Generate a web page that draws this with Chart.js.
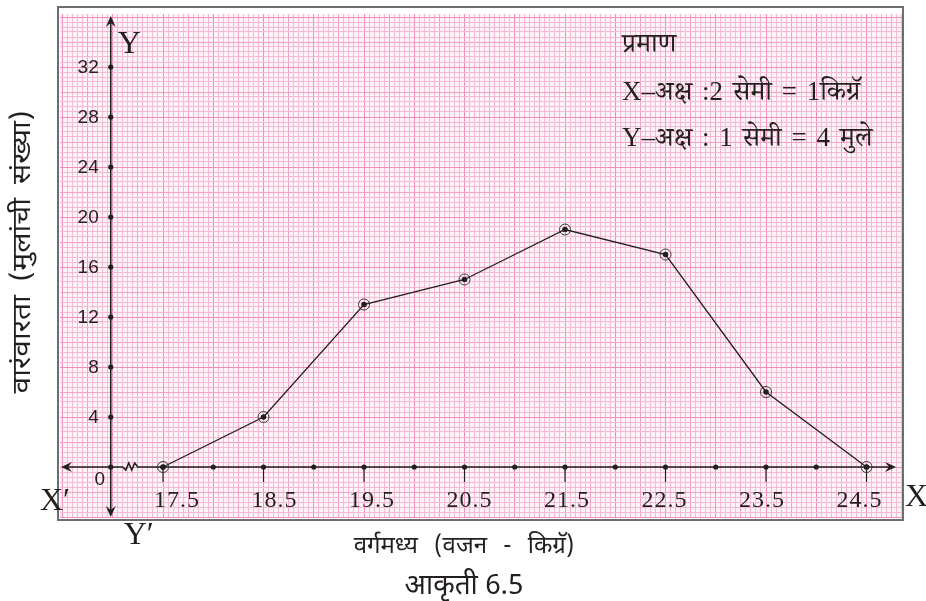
<!DOCTYPE html>
<html><head><meta charset="utf-8">
<script src="https://cdn.jsdelivr.net/npm/chart.js@4.4.1/dist/chart.umd.min.js"></script>
<style>html,body{margin:0;padding:0;background:#fff;}#wrap{width:926px;height:601px;position:relative;}</style>
</head><body><div id="wrap"><canvas id="c" width="926" height="601"></canvas></div>
<script>
// ---- data ----
const classMarks = [17.5, 18.5, 19.5, 20.5, 21.5, 22.5, 23.5, 24.5];
const frequencies = [0, 4, 13, 15, 19, 17, 6, 0];
const xTickLabels = ['17.5', '18.5', '19.5', '20.5', '21.5', '22.5', '23.5', '24.5'];
const yTickValues = [4, 8, 12, 16, 20, 24, 28, 32];
const yTickLabels = ['4', '8', '12', '16', '20', '24', '28', '32'];
const xTitle = 'वर्गमध्य (वजन - किग्रॅ)';
const yTitle = 'वारंवारता (मुलांची संख्या)';
const caption = 'आकृती 6.5';
const scaleNote = ['प्रमाण', 'X–अक्ष :2 सेमी = 1किग्रॅ', 'Y–अक्ष : 1 सेमी = 4 मुले'];

// ---- layout constants (not data) ----
const X_MIN = 16.475, X_MAX = 24.853, Y_MIN = -4.08, Y_MAX = 36.24;
const Y_AXIS_AT = 16.98;
const X_MM = 0.05, Y_MM = 0.4;
const DEVA = "'Noto Sans Devanagari','Lohit Devanagari','Noto Sans',sans-serif";
const DEVA_SERIF = "'Liberation Serif','Noto Serif Devanagari','Noto Sans Devanagari','Lohit Devanagari',serif";
const INK = '#231f20';

const points = classMarks.map((x, i) => ({x: x, y: frequencies[i]}));

function paperTicks(scale, origin, step) {
  const k0 = Math.ceil((scale.min - origin) / step - 1e-9);
  const k1 = Math.floor((scale.max - origin) / step + 1e-9);
  const t = [];
  for (let k = k0; k <= k1; k++) t.push({value: origin + k * step});
  scale.ticks = t;
}
function gridColor(origin, step) {
  return (ctx) => {
    const v = ctx.tick ? ctx.tick.value : 0;
    const k = Math.round((v - origin) / step);
    if (k % 10 === 0) return '#f08fb9';
    if (k % 5 === 0) return '#f4a3c6';
    return '#f7bad4';
  };
}

function arrow(ctx, tx, ty, dx, dy) {
  const L = 11, W = 5, N = 7;
  const px = -dy, py = dx;
  ctx.beginPath();
  ctx.moveTo(tx, ty);
  ctx.lineTo(tx - dx * L + px * W, ty - dy * L + py * W);
  ctx.lineTo(tx - dx * N, ty - dy * N);
  ctx.lineTo(tx - dx * L - px * W, ty - dy * L - py * W);
  ctx.closePath();
  ctx.fill();
}

const paperPlugin = {
  id: 'paper',
  beforeDraw(chart) {
    const {ctx, chartArea: a} = chart;
    ctx.save();
    ctx.fillStyle = '#ffffff';
    ctx.fillRect(0, 0, chart.width, chart.height);
    ctx.fillStyle = '#fef3f7';
    ctx.fillRect(a.left, a.top, a.right - a.left, a.bottom - a.top);
    ctx.strokeStyle = '#6d6e71';
    ctx.lineWidth = 2;
    ctx.beginPath();
    ctx.moveTo(a.left - 2, a.bottom + 2);
    ctx.lineTo(a.left - 2, a.top - 7);
    ctx.lineTo(a.right + 1, a.top - 7);
    ctx.lineTo(a.right + 1, a.bottom + 2);
    ctx.closePath();
    ctx.stroke();
    ctx.restore();
  },
  beforeDatasetsDraw(chart) {
    const {ctx, chartArea: a} = chart;
    const xs = chart.scales.x, ys = chart.scales.y;
    const y0 = ys.getPixelForValue(0);
    const xo = xs.getPixelForValue(Y_AXIS_AT);
    ctx.save();
    ctx.strokeStyle = INK; ctx.fillStyle = INK; ctx.lineWidth = 1.6;
    const zz = xo + 12;
    ctx.beginPath();
    ctx.moveTo(a.left + 4, y0); ctx.lineTo(zz, y0);
    ctx.lineTo(zz + 3, y0 + 3); ctx.lineTo(zz + 6, y0 - 4); ctx.lineTo(zz + 9, y0 + 3);
    ctx.lineTo(zz + 12, y0 - 4); ctx.lineTo(zz + 15, y0);
    ctx.lineTo(a.right - 10, y0);
    ctx.stroke();
    arrow(ctx, a.left + 1, y0, -1, 0);
    arrow(ctx, a.right - 6, y0, 1, 0);
    ctx.beginPath();
    ctx.moveTo(xo, a.top + 6); ctx.lineTo(xo, a.bottom - 5);
    ctx.stroke();
    arrow(ctx, xo, a.top + 2, 0, -1);
    arrow(ctx, xo, a.bottom - 1, 0, 1);
    const marks = [];
    classMarks.forEach((m, i) => { marks.push(m); if (i < classMarks.length - 1) marks.push((m + classMarks[i + 1]) / 2); });
    marks.forEach(m => {
      ctx.beginPath(); ctx.arc(xs.getPixelForValue(m), y0, 2.6, 0, Math.PI * 2); ctx.fill();
    });
    ctx.lineWidth = 1.2;
    classMarks.forEach(m => {
      const px = xs.getPixelForValue(m);
      ctx.beginPath(); ctx.moveTo(px, y0); ctx.lineTo(px, y0 + 15); ctx.stroke();
    });
    [0].concat(yTickValues).forEach(v => {
      ctx.beginPath(); ctx.arc(xo, ys.getPixelForValue(v), 2.6, 0, Math.PI * 2); ctx.fill();
    });
    ctx.font = "19px 'Liberation Sans', Arial, sans-serif";
    ctx.textAlign = 'right'; ctx.textBaseline = 'middle';
    yTickValues.forEach((v, i) => ctx.fillText(yTickLabels[i], xo - 12, ys.getPixelForValue(v) + 1));
    ctx.textAlign = 'center';
    ctx.fillText('0', xo - 11, y0 + 13);
    ctx.font = "24px 'Liberation Serif', 'Times New Roman', serif";
    ctx.letterSpacing = '1px';
    ctx.textBaseline = 'alphabetic';
    classMarks.forEach((m, i) => {
      const px = xs.getPixelForValue(m) + 14 - 3 * (m - classMarks[0]);
      ctx.fillText(xTickLabels[i], px, y0 + 40);
    });
    ctx.letterSpacing = '0px';
    ctx.font = "32px 'Liberation Serif', 'Times New Roman', serif";
    ctx.textAlign = 'left';
    ctx.fillText('Y', xo + 7, a.top + 39);
    ctx.fillText('Y\u2032', xo + 13, a.bottom + 26);
    ctx.fillText('X\u2032', a.left - 20, y0 + 43);
    ctx.fillText('X', a.right + 3, y0 + 39);
    ctx.restore();
  },
  afterDraw(chart) {
    const {ctx} = chart;
    ctx.save();
    ctx.fillStyle = INK;
    ctx.textAlign = 'left'; ctx.textBaseline = 'alphabetic';
    ctx.font = "27px " + DEVA_SERIF;
    ctx.wordSpacing = '3px';
    ctx.fillText(scaleNote[0], 622, 52);
    ctx.fillText(scaleNote[1], 622, 100);
    ctx.fillText(scaleNote[2], 622, 146);
    ctx.textAlign = 'center';
    ctx.font = "24px " + DEVA;
    ctx.wordSpacing = '10px';
    ctx.fillText(xTitle, 464, 553);
    ctx.wordSpacing = '0px';
    ctx.font = "28px " + DEVA;
    ctx.fillText(caption, 464, 594);
    ctx.translate(25, 252);
    ctx.rotate(-Math.PI / 2);
    ctx.scale(1.2, 1);
    ctx.font = "25px " + DEVA;
    ctx.wordSpacing = '5px';
    ctx.textBaseline = 'middle';
    ctx.fillText(yTitle, 0, 0);
    ctx.restore();
  }
};

new Chart(document.getElementById('c'), {
  type: 'scatter',
  data: {
    datasets: [
      {data: points, showLine: true, borderColor: INK, borderWidth: 1.3, tension: 0,
       pointRadius: 2.8, pointBackgroundColor: INK, pointBorderWidth: 0},
      {data: points, showLine: false, pointRadius: 5.5, pointBackgroundColor: 'rgba(0,0,0,0)',
       pointBorderColor: '#3a3a3a', pointBorderWidth: 1}
    ]
  },
  options: {
    responsive: false, animation: false, devicePixelRatio: 1,
    layout: {padding: {left: 60, right: 24, top: 14, bottom: 83}},
    plugins: {legend: {display: false}, tooltip: {enabled: false}},
    scales: {
      x: {type: 'linear', min: X_MIN, max: X_MAX, bounds: 'data',
          afterBuildTicks: s => paperTicks(s, classMarks[0], X_MM),
          ticks: {display: false, autoSkip: false},
          grid: {drawTicks: false, color: gridColor(classMarks[0], X_MM), lineWidth: 1},
          border: {display: false}},
      y: {type: 'linear', min: Y_MIN, max: Y_MAX, bounds: 'data',
          afterBuildTicks: s => paperTicks(s, 0, Y_MM),
          ticks: {display: false, autoSkip: false},
          grid: {drawTicks: false, color: gridColor(0, Y_MM), lineWidth: 1},
          border: {display: false}}
    }
  },
  plugins: [paperPlugin]
});
</script></body></html>
